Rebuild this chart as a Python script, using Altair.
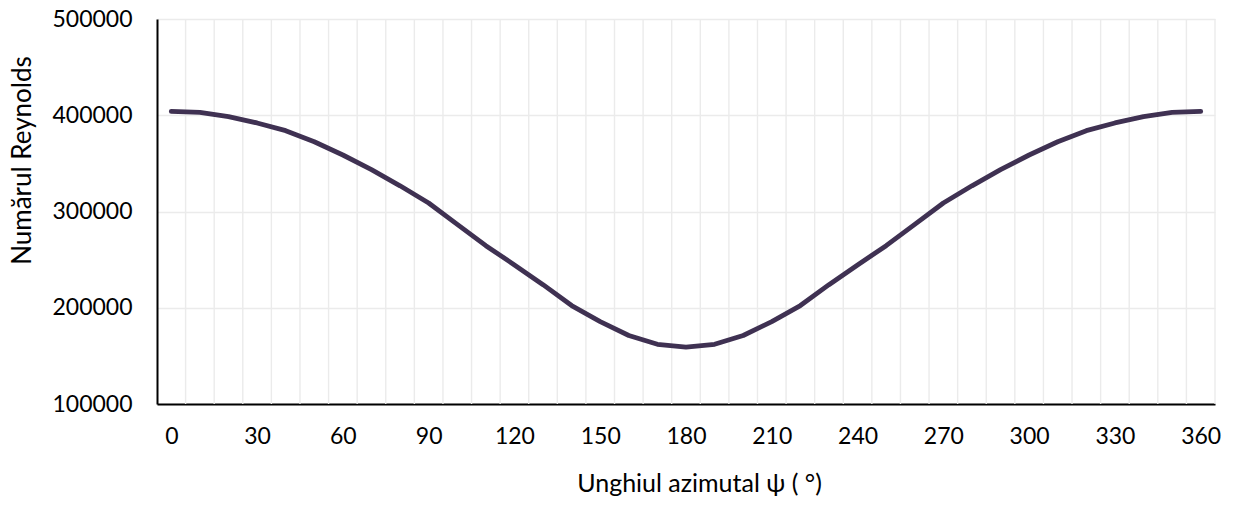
import altair as alt
import pandas as pd

angles = list(range(0, 361, 10))
reynolds = [
    404000, 403000, 398500, 392000, 384000, 372500, 358700, 343500, 326700,
    308800, 286700, 264500, 244500, 224000, 202300, 185600, 171200, 162000,
    159000,
    162000, 171200, 185600, 202300, 224000, 244500, 264500, 286700, 308800,
    326700, 343500, 358700, 372500, 384000, 392000, 398500, 403000, 404000,
]
x_tick_labels = list(range(0, 361, 30))
y_tick_values = [100000, 200000, 300000, 400000, 500000]

df = pd.DataFrame({"psi": angles, "re": reynolds})
# category boundaries (Excel-style gridlines between categories); the first
# boundary coincides with the value axis line, so it is left out
bounds = pd.DataFrame({"b": [a - 5 for a in angles[1:]] + [angles[-1] + 5]})

FONT = "Lato"
x_scale = alt.Scale(domain=[angles[0] - 5, angles[-1] + 5], nice=False, zero=False)
y_scale = alt.Scale(domain=[100000, 500000], nice=False, zero=False)

x_axis = alt.Axis(
    values=x_tick_labels,
    grid=False,
    ticks=False,
    labelPadding=21,
    labelFont=FONT,
    labelFontSize=23,
    labelColor="#000000",
    domainColor="#000000",
    domainWidth=1.8,
    title="Unghiul azimutal ψ ( °)",
    titleFont=FONT,
    titleFontSize=25,
    titleFontWeight="normal",
    titleColor="#000000",
    titleX=542,
    titleY=67,
    titleBaseline="top",
)

grid_v = alt.Chart(bounds).mark_rule(color="#ebebeb", strokeWidth=1.4).encode(
    x=alt.X("b:Q", scale=x_scale, axis=x_axis, title="Unghiul azimutal ψ ( °)")
)

line = alt.Chart(df).mark_line(
    color="#3f3152", strokeWidth=4.8, strokeCap="round", strokeJoin="round"
).encode(
    x=alt.X("psi:Q", scale=x_scale, axis=x_axis, title="Unghiul azimutal ψ ( °)"),
    y=alt.Y(
        "re:Q",
        scale=y_scale,
        axis=alt.Axis(
            values=y_tick_values,
            format="d",
            grid=True,
            gridColor="#ebebeb",
            gridWidth=1.4,
            ticks=False,
            labelPadding=25,
            labelFont=FONT,
            labelFontSize=23,
            labelColor="#000000",
            domainColor="#000000",
            domainWidth=2,
            title="Numărul Reynolds",
            titleFont=FONT,
            titleFontSize=26,
            titleFontWeight="normal",
            titleColor="#000000",
            titleX=-122,
            titleY=141,
            titleBaseline="bottom",
        ),
    ),
)

chart = alt.layer(grid_v, line).properties(
    width=1058,
    height=385,
    autosize=alt.AutoSizeParams(type="none"),
    padding={"left": 149, "top": 11, "right": 12, "bottom": 95},
    background="white",
).configure_view(stroke=None)

chart.save("out.html", embed_options={"renderer": "svg", "actions": False})
